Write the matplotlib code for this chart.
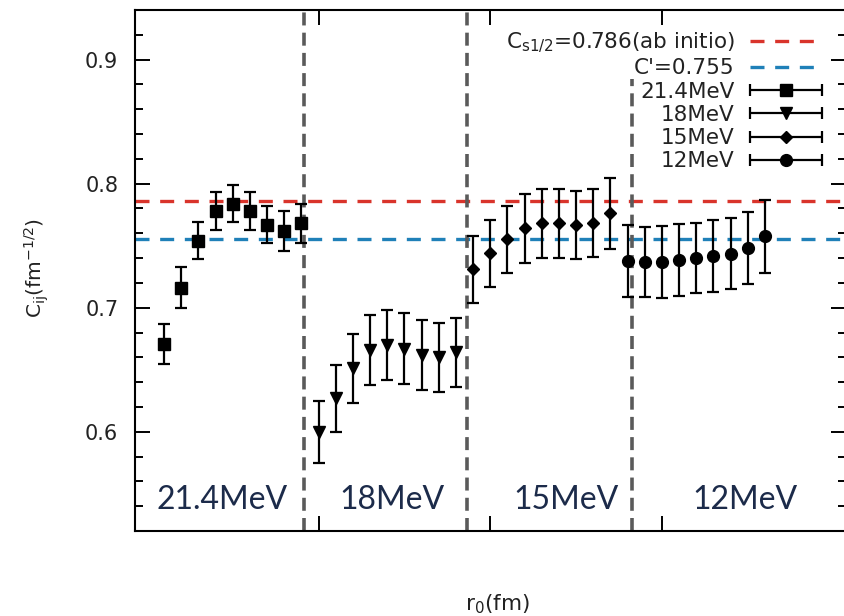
import matplotlib
matplotlib.use("Agg")
import matplotlib.pyplot as plt
from matplotlib.legend_handler import HandlerErrorbar
from matplotlib.container import ErrorbarContainer
import numpy as np

# ---- data ----
groups = ["21.4MeV", "18MeV", "15MeV", "12MeV"]
val_214 = [0.671, 0.716, 0.754, 0.778, 0.784, 0.778, 0.767, 0.762, 0.768]
err_214 = [0.016, 0.0165, 0.015, 0.015, 0.015, 0.015, 0.015, 0.016, 0.016]
val_18 = [0.600, 0.627, 0.651, 0.666, 0.670, 0.667, 0.662, 0.660, 0.664]
err_18 = [0.025, 0.027, 0.028, 0.028, 0.028, 0.0285, 0.028, 0.028, 0.028]
val_15 = [0.731, 0.744, 0.755, 0.764, 0.768, 0.768, 0.7665, 0.768, 0.776]
err_15 = [0.027, 0.027, 0.027, 0.028, 0.028, 0.028, 0.0275, 0.0275, 0.0285]
val_12 = [0.7376, 0.7368, 0.7368, 0.7382, 0.740, 0.7414, 0.7436, 0.7482, 0.7576]
err_12 = [0.029, 0.028, 0.029, 0.029, 0.0285, 0.029, 0.0287, 0.029, 0.0296]
c_s12 = 0.786
c_prime = 0.755
sep_positions = [8.15, 17.65, 27.26]

fig = plt.figure(figsize=(8.45, 6.16), dpi=100)
ax = fig.add_axes([135/845, 85/616, (846-135)/845, (531-10)/616])

series = [
    (val_214, err_214, "s", 8.5, "21.4MeV"),
    (val_18, err_18, "v", 8.5, "18MeV"),
    (val_15, err_15, "D", 6.5, "15MeV"),
    (val_12, err_12, "o", 8.5, "12MeV"),
]
proxies = []
start = 0
for vals, errs, mk, ms, lab in series:
    x = np.arange(start, start + len(vals))
    start += len(vals)
    ax.errorbar(x, vals, yerr=errs, fmt=mk, color="black", ms=ms,
                elinewidth=1.6, capsize=4.5, capthick=1.6, zorder=3)
    # legend proxy drawn with horizontal bars, as in the reference legend
    p = ax.errorbar([np.nan], [np.nan], xerr=[1.0], fmt=mk, color="black", ms=ms,
                    elinewidth=1.6, capsize=4.5, capthick=1.6, label=lab)
    proxies.append(p)

l1 = ax.axhline(c_s12, color="#d9342b", lw=2.4, ls=(0, (4.2, 3.2)), zorder=2,
                label=r"$\mathregular{C_{s1/2}}$=0.786(ab initio)")
l2 = ax.axhline(c_prime, color="#1f80b8", lw=2.4, ls=(0, (4.2, 3.2)), zorder=2,
                label="C'=0.755")

ylo, yhi = 0.52, 0.94
for i, xs in enumerate(sep_positions):
    top = 1.0 if i < 2 else (0.884 - ylo) / (yhi - ylo)
    ax.axvline(xs, ymin=0, ymax=top, color="#5a5a5a", lw=2.6, ls=(0, (3.6, 2.0)), zorder=2)

ax.set_xlim(-1.69, 39.72)
ax.set_ylim(ylo, yhi)
ax.set_yticks([0.6, 0.7, 0.8, 0.9])
ax.set_yticklabels(["0.6", "0.7", "0.8", "0.9"])
ax.set_yticks(np.arange(0.52, 0.941, 0.02), minor=True)
ax.set_xticks([9, 19, 29])
ax.set_xticklabels([])
ax.tick_params(axis="both", which="major", direction="in", length=10.5, width=1.4,
               top=True, right=True, labelsize=15, labelcolor="#222222", pad=12)
ax.tick_params(axis="y", which="minor", direction="in", length=5.5, width=1.4, right=True)
for s in ax.spines.values():
    s.set_linewidth(1.5)

ax.set_ylabel(r"C$_{\mathregular{ij}}$(fm$^{\mathregular{-1/2}}$)", fontsize=14.5, color="#222222")
ax.yaxis.set_label_coords(-0.118, 0.505)
fig.text(497/845, 1 - 604/616, r"r$_{\mathregular{0}}$(fm)", fontsize=15.5, color="#222222",
         ha="center", va="center")

# region labels
text_x = [222, 392, 566, 745]
for g, px in zip(groups, text_x):
    fig.text(px/845, 1 - 500/616, g, fontsize=23, family="Lato", color="#1c2b4a",
             ha="center", va="center")

leg = ax.legend([l1, l2] + proxies, [l1.get_label(), l2.get_label()] + groups,
                loc="upper right", bbox_to_anchor=(822/845, 1 - 31/616),
                bbox_transform=fig.transFigure, frameon=False, markerfirst=False,
                fontsize=15.5, handlelength=3.35, handletextpad=0.7, labelspacing=0.15,
                borderpad=0, borderaxespad=0,
                handler_map={ErrorbarContainer: HandlerErrorbar(xerr_size=1.68)})
for t in leg.get_texts():
    t.set_color("#222222")

fig.savefig("out.png", dpi=100)
